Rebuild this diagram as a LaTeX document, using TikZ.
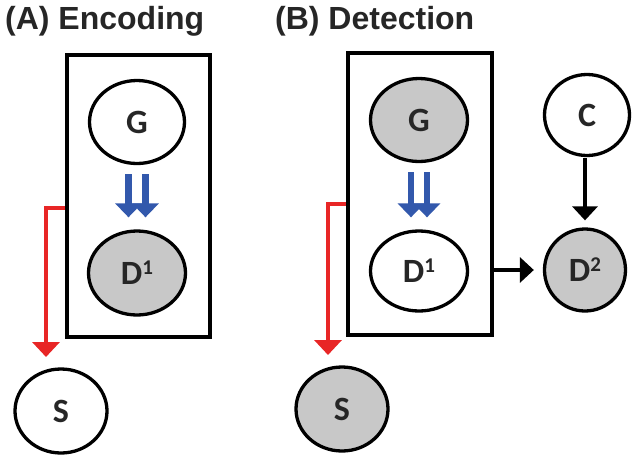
\documentclass[tikz,border=0pt]{standalone}
\usepackage{fontspec}
\setmainfont{Carlito}
\newfontfamily\headfont{Liberation Sans}
\usetikzlibrary{shapes.geometric,arrows.meta}
\definecolor{nodegray}{RGB}{200,200,200}
\definecolor{arrblue}{RGB}{50,88,172}
\definecolor{arrred}{RGB}{232,38,38}
\newcommand{\supone}[1]{D\raisebox{10pt}{\fontsize{21}{21}\selectfont #1}}
\tikzset{
  var/.style={ellipse, draw=black, line width=3.3pt, inner sep=0pt,
    font=\fontsize{34}{34}\selectfont\bfseries, text=black!85},
  obs/.style={var, fill=nodegray},
  latent/.style={var, fill=white},
  plate/.style={draw=black, line width=3.8pt, inner sep=0pt},
  title/.style={anchor=base west, inner sep=0pt,
    font=\headfont\fontsize{32}{32}\selectfont\bfseries, text=black!85},
  bluearrow/.style={draw=arrblue, line width=6.5pt,
    -{Triangle[width=26pt,length=14pt]}, shorten <=9pt, shorten >=12pt},
  redarrow/.style={draw=arrred, line width=4pt,
    -{Triangle[width=27pt,length=15pt]}},
  blackarrow/.style={draw=black, line width=4pt,
    -{Triangle[width=25pt,length=14pt]}}
}
\begin{document}
\begin{tikzpicture}[x=1pt,y=-1pt]
\useasboundingbox (0,0) rectangle (632,461);

% panel titles
\node[title] (tA) at (5,29) {(A) Encoding};
\node[title] (tB) at (275,29) {(B) Detection};

% ---- (A) encoding model ----
\node[plate, minimum width=143pt, minimum height=282pt] (boxA) at (138.5,196) {};
\node[latent, minimum width=95pt, minimum height=83pt] (gA) at (137,122) {G};
\node[obs, minimum width=97pt, minimum height=84pt] (dA) at (137,273) {\supone{1}};
\node[latent, minimum width=92pt, minimum height=84pt] (sA) at (61,411) {S};

\draw[bluearrow] ([xshift=-8.5pt]gA.south) -- ([xshift=-8.5pt]dA.north);
\draw[bluearrow] ([xshift=8.5pt]gA.south) -- ([xshift=8.5pt]dA.north);

\coordinate (rA0) at (boxA.west |- 0,208);
\coordinate (rA1) at (46,357);
\draw[redarrow] (rA0) -| (rA1);

% ---- (B) detection model ----
\node[plate, minimum width=144pt, minimum height=282pt] (boxB) at (420,194) {};
\node[obs, minimum width=97pt, minimum height=83pt] (gB) at (419,120) {G};
\node[latent, minimum width=97pt, minimum height=80pt] (dB) at (419,271) {\supone{1}};
\node[obs, minimum width=92pt, minimum height=84pt] (sB) at (342,409) {S};
\node[latent, minimum width=85pt, minimum height=81pt] (cB) at (587,115) {C};
\node[obs, minimum width=81pt, minimum height=82pt] (d2) at (585,270) {\supone{2}};

\draw[bluearrow] ([xshift=-8pt]gB.south) -- ([xshift=-8pt]dB.north);
\draw[bluearrow] ([xshift=8pt]gB.south) -- ([xshift=8pt]dB.north);

\coordinate (rB0) at (boxB.west |- 0,204);
\coordinate (rB1) at (328,355);
\draw[redarrow] (rB0) -| (rB1);

\draw[blackarrow, shorten >=9pt] (boxB.east |- d2.west) -- (d2.west);
\draw[blackarrow, shorten <=1pt, shorten >=7pt] (cB.south -| d2.north) -- (d2.north);
\end{tikzpicture}
\end{document}
